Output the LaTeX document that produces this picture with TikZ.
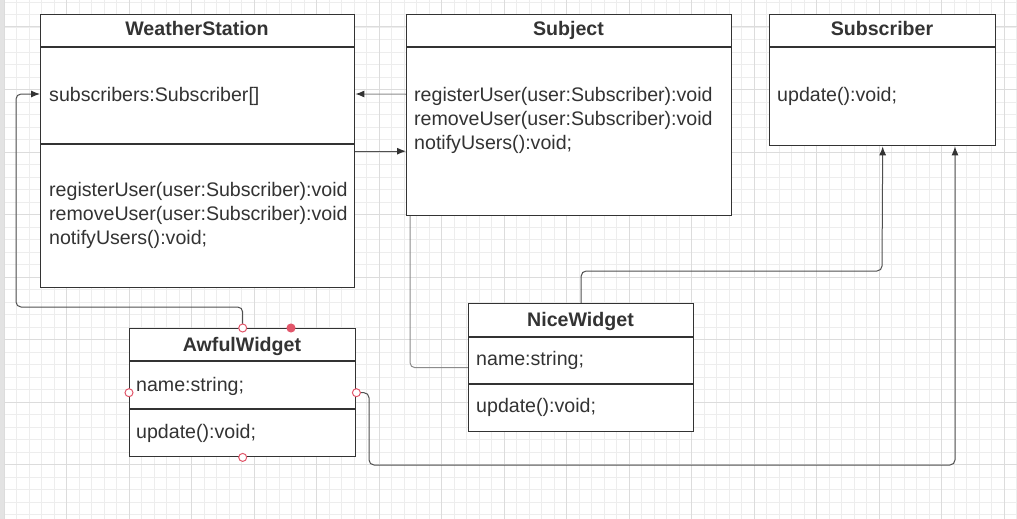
\documentclass[tikz,border=0pt]{standalone}
\usepackage{fontspec}
\setmainfont{Liberation Sans}
\usetikzlibrary{arrows.meta}
\definecolor{ink}{HTML}{333333}
\definecolor{wire}{HTML}{505050}
\definecolor{wirelight}{HTML}{8C8C8C}
\definecolor{handle}{HTML}{E2566A}
\definecolor{gridminor}{HTML}{EDEDED}
\definecolor{gridmajor}{HTML}{DCDCDC}
\pgfdeclarelayer{grid}
\pgfdeclarelayer{wires}
\pgfsetlayers{grid,wires,main}

\begin{document}
\begin{tikzpicture}[x=1pt, y=-1pt, every node/.style={font=\fontsize{19.6}{24}\selectfont, text=ink},
	cls/.style={draw=ink, line width=1.4pt, fill=white, anchor=north west, inner sep=0pt},
	rule/.style={draw=ink, line width=1.4pt},
	ttl/.style={font=\fontsize{19.6}{24}\selectfont\bfseries, inner sep=0pt, anchor=base},
	txt/.style={anchor=west, align=left, inner sep=0pt},
	wire/.style={draw=wire, line width=1pt, rounded corners=5pt, -{Latex[length=9pt,width=7pt,color=ink]}},
	hnd/.style={circle, draw=handle, fill=white, line width=1pt, minimum size=8pt, inner sep=0pt}]
	\useasboundingbox (0,0) rectangle (1017,519);
	\begin{pgfonlayer}{grid}
		\fill[white] (0,0) rectangle (1017,519);
		\foreach \gx in {0,...,81} \draw[gridminor, line width=0.9pt] ({4.2+12.5*\gx},0) -- ({4.2+12.5*\gx},519);
		\foreach \gy in {0,...,41} \draw[gridminor, line width=0.9pt] (0,{2+12.5*\gy}) -- (1017,{2+12.5*\gy});
		\foreach \gx in {0,...,16} \draw[gridmajor, line width=1pt] ({4.2+62.5*\gx},0) -- ({4.2+62.5*\gx},519);
		\foreach \gy in {0,...,7} \draw[gridmajor, line width=1pt] (0,{27+62.5*\gy}) -- (1017,{27+62.5*\gy});
		\fill[gray!22] (0,0) rectangle (3.5,519);
	\end{pgfonlayer}

	\node[cls, minimum width=314, minimum height=273] (ws) at (40,14) {};
	\draw[rule] (ws.west |- 0,47) -- (ws.east |- 0,47);
	\draw[rule] (ws.west |- 0,144) -- (ws.east |- 0,144);
	\node[ttl] (ws-t) at (197,36) {WeatherStation};
	\node[txt] (ws-a) at (49,96) {subscribers:Subscriber[]};
	\node[txt] (ws-m) at (49,215) {registerUser(user:Subscriber):void\\removeUser(user:Subscriber):void\\notifyUsers():void;};

	\node[cls, minimum width=325, minimum height=201] (subj) at (406,14) {};
	\draw[rule] (subj.west |- 0,47) -- (subj.east |- 0,47);
	\node[ttl] (subj-t) at (568.5,36) {Subject};
	\node[txt] (subj-m) at (414,120) {registerUser(user:Subscriber):void\\removeUser(user:Subscriber):void\\notifyUsers():void;};

	\node[cls, minimum width=226, minimum height=131] (subscr) at (769,14) {};
	\draw[rule] (subscr.west |- 0,47) -- (subscr.east |- 0,47);
	\node[ttl] (subscr-t) at (882,36) {Subscriber};
	\node[txt] (subscr-m) at (777,96) {update():void;};

	\node[cls, minimum width=226, minimum height=128] (aw) at (129,328) {};
	\draw[rule] (aw.west |- 0,361) -- (aw.east |- 0,361);
	\draw[rule] (aw.west |- 0,409) -- (aw.east |- 0,409);
	\node[ttl] (aw-t) at (242,351) {AwfulWidget};
	\node[txt] (aw-a) at (136,386) {name:string;};
	\node[txt] (aw-m) at (136,433) {update():void;};

	\node[cls, minimum width=225, minimum height=128] (nw) at (468,303) {};
	\draw[rule] (nw.west |- 0,337) -- (nw.east |- 0,337);
	\draw[rule] (nw.west |- 0,384) -- (nw.east |- 0,384);
	\node[ttl] (nw-t) at (580.5,326) {NiceWidget};
	\node[txt] (nw-a) at (476,360) {name:string;};
	\node[txt] (nw-m) at (476,407) {update():void;};

	\coordinate (awup) at (16,307);
	\coordinate (lnk) at (410,94);
	\coordinate (nwup) at (882,271);
	\coordinate (awdown) at (369,465);
	\coordinate (subdown) at (955,465);
	\begin{pgfonlayer}{wires}
		\draw[wire] (aw.north) |- (awup) |- (ws.west |- lnk);
		\draw[wire, draw=wirelight] (nw.west) -| (lnk) -- (ws.east |- lnk);
		\draw[wire] (ws.east) -- (ws.east -| subj.west);
		\draw[wire] (nw.north) |- (nwup) -- (subscr.south);
		\draw[wire] (aw.east) -| (awdown) -- (subdown) -- (subdown |- subscr.south);
	\end{pgfonlayer}

	\node[hnd] (h-n) at (aw.north) {};
	\node[hnd] (h-w) at (aw.west) {};
	\node[hnd] (h-e) at (aw.east) {};
	\node[hnd] (h-s) at (aw.south) {};
	\node[hnd, fill=handle] (h-x) at (291,328) {};
\end{tikzpicture}
\end{document}
